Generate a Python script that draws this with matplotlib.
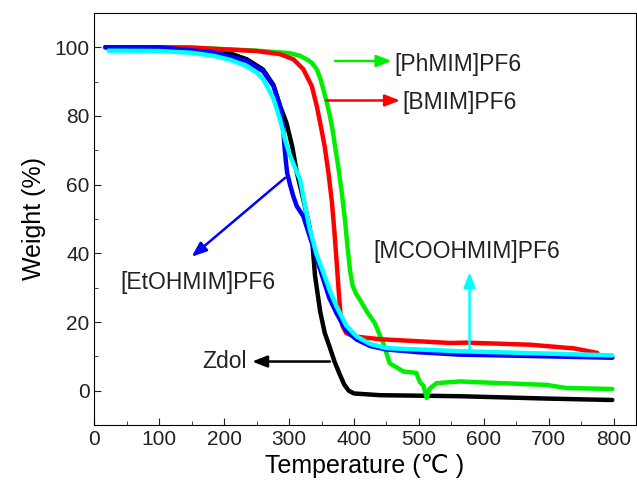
import matplotlib
matplotlib.use("Agg")
import matplotlib.pyplot as plt
from matplotlib.ticker import MultipleLocator

plt.rcParams['font.family'] = ['Liberation Sans', 'DejaVu Sans']

# Zdol (black)
zdol_t = [17, 100, 150, 200, 235, 260, 276, 286, 296, 305, 312, 322, 330, 336, 340, 348, 355, 363, 370, 378, 385, 392, 400, 440, 563, 700, 798]
zdol_w = [100, 100, 99.7, 98.8, 96.5, 93.5, 89, 83, 78, 71, 63.5, 55.7, 49, 43, 33.5, 23, 16.8, 12.5, 8.5, 4.8, 1.8, 0, -0.8, -1.3, -1.6, -2.3, -2.7]

# [EtOHMIM]PF6 (blue)
etoh_t = [17, 100, 132, 184, 235, 260, 276, 286, 291, 293, 295, 297, 301.5, 306.6, 312, 322, 330, 337, 345, 352.8, 362, 373, 388, 404, 425, 450, 500, 563, 700, 798]
etoh_w = [100, 100, 99.4, 98.5, 96, 93, 88.7, 83, 76, 71, 67, 63.5, 60, 56.6, 53.7, 50.8, 46, 42, 37, 32.4, 27, 22.6, 17.5, 14.9, 13, 12, 11.2, 10.5, 10, 9.6]

# [MCOOHMIM]PF6 (cyan)
mcooh_t = [22, 100, 150, 184, 210, 235, 250, 260, 268, 276, 286, 294, 301.5, 309, 317, 325, 332, 342, 353, 363, 373, 388, 404, 425, 450, 500, 563, 700, 798]
mcooh_w = [99, 98.9, 98.4, 97.5, 96.3, 94.5, 92.6, 90.7, 88, 85, 79, 73, 68.5, 65, 61.5, 53.5, 47, 40, 34.3, 29, 24.6, 19, 15.8, 13.6, 12.4, 12, 11.5, 10.8, 10.3]

# [BMIM]PF6 (red)
bmim_t = [17, 148, 250, 286, 306.6, 322, 335, 342.6, 350, 355, 361, 366, 370, 373.5, 376.5, 379, 382, 388, 400, 420, 440, 548, 573, 671, 740, 775]
bmim_w = [100, 99.9, 98.9, 98, 96.5, 93.6, 88.7, 83, 76, 71, 63, 55, 46, 37, 29, 23, 19, 16.8, 15.8, 15.4, 15, 13.9, 14, 13.4, 12.3, 11]

# [PhMIM]PF6 (green)
phmim_t = [17, 150, 250, 301, 317, 327, 335, 342.6, 348, 352.8, 358, 363, 367, 371, 376, 381, 386, 390, 394, 398, 404, 409, 420, 432, 445, 455, 476, 496, 501.5, 507, 512, 516, 527, 563, 600, 696.5, 727, 798]
phmim_w = [100, 99.9, 99, 98.3, 97.5, 96.5, 95.5, 93.6, 91, 87.8, 84, 80, 76, 71, 65, 58, 50, 42, 35, 30.5, 28, 26.5, 23, 19.7, 13.9, 8, 5.6, 5.2, 2.5, 1.5, -2.1, 0.5, 2.2, 2.7, 2.4, 1.7, 0.8, 0.5]

fig = plt.figure(figsize=(6.37, 4.96), dpi=100)
ax = fig.add_axes([0.148, 0.143, 0.85, 0.831])

kw = dict(lw=3.2, solid_joinstyle='round', solid_capstyle='round')
ax.plot(zdol_t, zdol_w, color='black', **kw)
ax.plot(phmim_t, phmim_w, color='#00ee00', **kw)
ax.plot(bmim_t, bmim_w, color='red', **kw)
ax.plot(etoh_t, etoh_w, color='blue', **kw)
ax.plot(mcooh_t, mcooh_w, color='cyan', **kw)

ax.set_xlim(0, 834)
ax.set_ylim(-10, 110)
ax.xaxis.set_major_locator(MultipleLocator(100))
ax.xaxis.set_minor_locator(MultipleLocator(50))
ax.yaxis.set_major_locator(MultipleLocator(20))
ax.yaxis.set_minor_locator(MultipleLocator(10))
ax.tick_params(which='both', direction='in', top=False, right=False, labelsize=15, colors='#222222')
ax.tick_params(which='major', length=5)
ax.tick_params(which='minor', length=3)

ax.set_xlabel('Temperature (℃ )', fontsize=18, labelpad=4)
ax.set_ylabel('Weight (%)', fontsize=18, labelpad=6)


def arrow(x0, y0, x1, y1, color):
    ax.annotate('', xy=(x1, y1), xytext=(x0, y0),
                arrowprops=dict(arrowstyle='-|>,head_length=0.9,head_width=0.35',
                                color=color, lw=1.8, shrinkA=0, shrinkB=0))


fs = 16.5
arrow(371, 96, 458, 96, '#00ee00')
ax.text(462, 95, '[PhMIM]PF6', fontsize=fs, va='center', ha='left', color='#222222')
arrow(357, 84.5, 471, 84.5, 'red')
ax.text(475, 84, '[BMIM]PF6', fontsize=fs, va='center', ha='left', color='#222222')
arrow(294, 62, 150, 39, 'blue')
ax.text(160, 31.5, '[EtOHMIM]PF6', fontsize=fs, va='center', ha='center', color='#222222')
arrow(578, 11.5, 578, 34.5, 'cyan')
ax.text(574, 40.5, '[MCOOHMIM]PF6', fontsize=fs, va='center', ha='center', color='#222222')
arrow(363, 8.5, 243, 8.5, 'black')
ax.text(235, 8.5, 'Zdol', fontsize=fs, va='center', ha='right', color='#222222')

fig.savefig('out.png', dpi=100)
